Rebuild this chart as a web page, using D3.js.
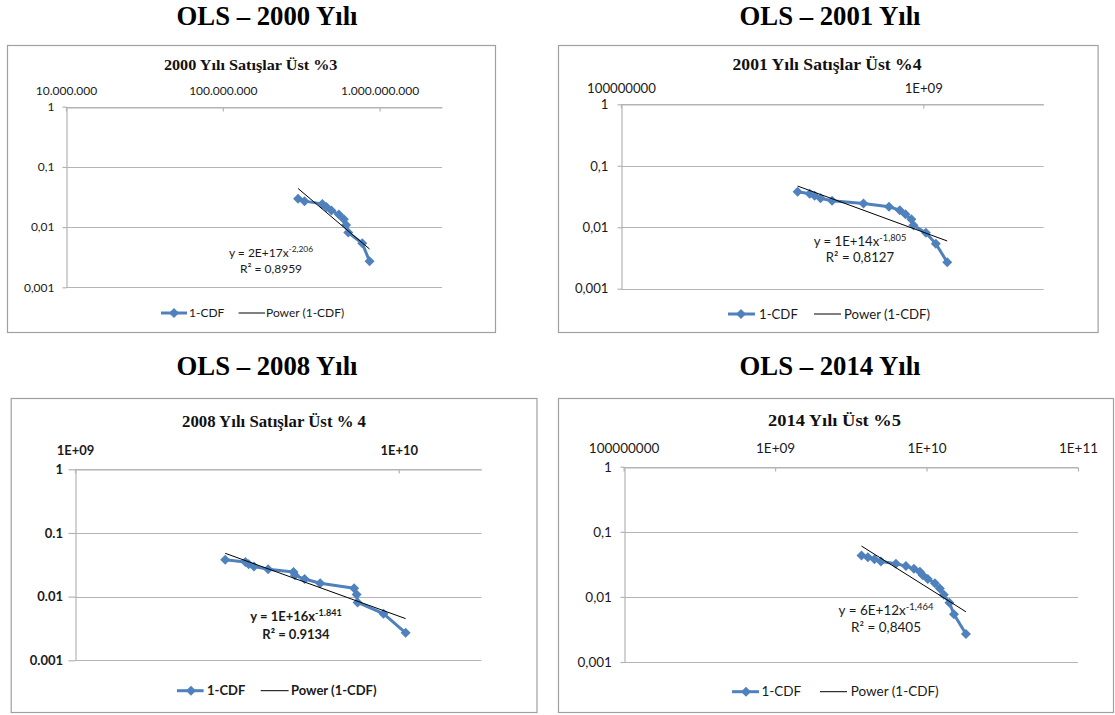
<!DOCTYPE html>
<html><head><meta charset="utf-8">
<script src="https://cdn.jsdelivr.net/npm/d3@7"></script>
<style>body{margin:0;background:#fff} svg{display:block}</style>
</head><body>
<svg id="c" width="1115" height="715"></svg>
<script>
// ---------- DATA ----------
const headerTitles = ["OLS – 2000 Yılı", "OLS – 2001 Yılı", "OLS – 2008 Yılı", "OLS – 2014 Yılı"];
const chartTitles = ["2000 Yılı  Satışlar  Üst %3", "2001 Yılı  Satışlar  Üst %4", "2008 Yılı Satışlar Üst % 4", "2014 Yılı  Üst %5"];

const sales2000 = [3.02e8, 3.32e8, 4.31e8, 4.58e8, 4.93e8, 5.50e8, 5.92e8, 6.11e8, 6.31e8, 7.75e8, 8.63e8];
const ccdf2000  = [0.0297, 0.0270, 0.0243, 0.0216, 0.0189, 0.0162, 0.0135, 0.0108, 0.0081, 0.0054, 0.0027];

const sales2001 = [3.84e8, 4.21e8, 4.37e8, 4.57e8, 4.99e8, 6.34e8, 7.70e8, 8.36e8, 8.73e8, 9.13e8, 9.27e8, 1.02e9, 1.10e9, 1.20e9];
const ccdf2001  = [0.0378, 0.0351, 0.0324, 0.0297, 0.0270, 0.0243, 0.0216, 0.0189, 0.0162, 0.0135, 0.0108, 0.0081, 0.0054, 0.0027];

const sales2008 = [2.91e9, 3.36e9, 3.44e9, 3.57e9, 3.95e9, 4.73e9, 4.78e9, 5.12e9, 5.72e9, 7.28e9, 7.41e9, 7.46e9, 8.97e9, 1.05e10];
const ccdf2008  = [0.0378, 0.0351, 0.0324, 0.0297, 0.0270, 0.0243, 0.0216, 0.0189, 0.0162, 0.0135, 0.0108, 0.0081, 0.0054, 0.0027];

const sales2014 = [3.72e9, 4.10e9, 4.53e9, 5.00e9, 6.28e9, 7.31e9, 8.26e9, 9.04e9, 9.44e9, 1.02e10, 1.135e10, 1.225e10, 1.30e10, 1.416e10, 1.517e10, 1.82e10];
const ccdf2014  = [0.0432, 0.0405, 0.0378, 0.0351, 0.0324, 0.0297, 0.0270, 0.0243, 0.0216, 0.0189, 0.0162, 0.0135, 0.0108, 0.0081, 0.0054, 0.0027];

const xTickValues2000 = [1e7, 1e8, 1e9];
const xTickLabels2000 = ["10.000.000", "100.000.000", "1.000.000.000"];
const xTickValues2001 = [1e8, 1e9];
const xTickLabels2001 = ["100000000", "1E+09"];
const xTickValues2008 = [1e9, 1e10];
const xTickLabels2008 = ["1E+09", "1E+10"];
const xTickValues2014 = [1e8, 1e9, 1e10, 1e11];
const xTickLabels2014 = ["100000000", "1E+09", "1E+10", "1E+11"];

const yTickValues = [1, 0.1, 0.01, 0.001];
const yTickLabelsComma = ["1", "0,1", "0,01", "0,001"];
const yTickLabelsDot = ["1", "0.1", "0.01", "0.001"];

// power trend lines  y = a * x^b
const trendA = [2.23e17, 1.46e14, 1.27e16, 6.2e12];
const trendB = [-2.206, -1.805, -1.841, -1.464];
const eqCoefLabels = ["2E+17", "1E+14", "1E+16", "6E+12"];
const eqExpLabels = ["-2,206", "-1,805", "-1.841", "-1,464"];
const r2Labels = ["0,8959", "0,8127", "0.9134", "0,8405"];
const legendLabels = ["1-CDF", "Power (1-CDF)"];

// ---------- LAYOUT ----------
const BLUE = "#4F81BD";
const panels = [
  { i:0, xs:sales2000, ys:ccdf2000, xt:xTickValues2000, xl:xTickLabels2000, yl:yTickLabelsComma,
    dom:[1e7, 2.5e9], header:{x:267, y:25}, box:[7,45,496,333],
    plot:{l:66, r:442, t:106.7, b:287.3}, title:{x:250.7, y:65, w:173.5, fs:15.5},
    xLabY:90, yLabX:54, fs:12, font:"Lato", weight:"normal",
    legend:{y:313, l1:[161,187], m:174, t1:189, l2:[238.6,265], t2:266},
    eq:{x:271, y1:253, y2:269} },
  { i:1, xs:sales2001, ys:ccdf2001, xt:xTickValues2001, xl:xTickLabels2001, yl:yTickLabelsComma,
    dom:[1e8, 2.5e9], header:{x:830, y:25}, box:[558,45,1098.6,333],
    plot:{l:621, r:1043.6, t:104.3, b:288.7}, title:{x:827, y:64, w:189, fs:17},
    xLabY:88, yLabX:608, fs:13.2, font:"Lato", weight:"normal",
    legend:{y:314, l1:[728,755], m:741, t1:759, l2:[814,841], t2:844},
    eq:{x:860, y1:241.5, y2:257.5} },
  { i:2, xs:sales2008, ys:ccdf2008, xt:xTickValues2008, xl:xTickLabels2008, yl:yTickLabelsDot,
    dom:[1e9, 1.8e10], header:{x:267, y:375}, box:[10.7,398,537.5,713],
    plot:{l:75, r:481.4, t:469.3, b:660.3}, title:{x:274, y:421.7, w:184, fs:16},
    xLabY:450, yLabX:62.5, fs:13, font:"Lato", weight:"bold",
    legend:{y:690.7, l1:[177,203.6], m:191, t1:207, l2:[260.7,288.6], t2:291},
    eq:{x:296, y1:616.7, y2:634.5} },
  { i:3, xs:sales2014, ys:ccdf2014, xt:xTickValues2014, xl:xTickLabels2014, yl:yTickLabelsComma,
    dom:[1e8, 1e11], header:{x:830, y:375}, box:[558,398,1114,713],
    plot:{l:623.6, r:1078, t:466.7, b:662}, title:{x:834.5, y:420, w:133, fs:16},
    xLabY:447.7, yLabX:611, fs:13.5, font:"Lato", weight:"normal",
    legend:{y:691.7, l1:[732,759], m:746, t1:761.4, l2:[820,847], t2:850.7},
    eq:{x:886, y1:610.5, y2:627.5} }
];

const svg = d3.select("#c");
const TXT = "#1a1a1a";
const GRID = "#b4b4b4";

function diamond(sel, cx, cy) {
  sel.append("path")
    .attr("d", d3.symbol(d3.symbolSquare, 50)())
    .attr("transform", `translate(${cx},${cy}) rotate(45)`)
    .attr("fill", BLUE);
}

panels.forEach(p => {
  const g = svg.append("g");
  // header
  g.append("text").attr("x", p.header.x).attr("y", p.header.y)
    .attr("text-anchor", "middle").attr("font-family", "Liberation Serif, Times New Roman, serif")
    .attr("font-weight", "bold").attr("font-size", 27)
    .attr("textLength", 181).attr("lengthAdjust", "spacingAndGlyphs")
    .attr("fill", "#000").text(headerTitles[p.i]);
  // box
  const [bx0, by0, bx1, by1] = p.box;
  g.append("rect").attr("x", bx0 + 0.5).attr("y", by0 + 0.5)
    .attr("width", bx1 - bx0 - 1).attr("height", by1 - by0 - 1)
    .attr("fill", "#fff").attr("stroke", "#a0a0a0").attr("stroke-width", 1.2);
  // chart title
  g.append("text").attr("x", p.title.x).attr("y", p.title.y)
    .attr("dy", "0.35em").attr("text-anchor", "middle")
    .attr("font-family", "Liberation Serif, Times New Roman, serif").attr("font-weight", "bold")
    .attr("font-size", p.title.fs).attr("textLength", p.title.w).attr("lengthAdjust", "spacingAndGlyphs")
    .attr("fill", "#111").text(chartTitles[p.i]);

  const x = d3.scaleLog().domain(p.dom).range([p.plot.l, p.plot.r]);
  const y = d3.scaleLog().domain([0.001, 1]).range([p.plot.b, p.plot.t]);

  // horizontal gridlines
  g.append("g").selectAll("line").data(yTickValues).join("line")
    .attr("x1", p.plot.l).attr("x2", p.plot.r)
    .attr("y1", d => Math.round(y(d)) + 0.5).attr("y2", d => Math.round(y(d)) + 0.5)
    .attr("stroke", GRID).attr("stroke-width", 1.2);

  // left axis
  const tickLen = p.i === 2 ? 7 : 4;
  const yAxis = d3.axisLeft(y).tickValues(yTickValues)
    .tickFormat((d, k) => p.yl[k]).tickSizeInner(tickLen).tickSizeOuter(0)
    .tickPadding(p.plot.l - p.yLabX - tickLen);
  const ya = g.append("g").attr("transform", `translate(${Math.round(p.plot.l) + 0.5},0)`).call(yAxis);
  ya.select(".domain").attr("stroke", GRID).attr("stroke-width", 1.2);
  ya.selectAll(".tick line").attr("stroke", GRID).attr("stroke-width", 1.2);
  ya.selectAll(".tick text").attr("font-family", p.font).attr("font-weight", p.weight)
    .attr("font-size", p.fs).attr("fill", TXT);

  // top axis
  const baseOff = p.fs * 0.36;
  const xAxis = d3.axisTop(x).tickValues(p.xt)
    .tickFormat((d, k) => p.xl[k]).tickSizeInner(-4).tickSizeOuter(0)
    .tickPadding(p.plot.t - p.xLabY - baseOff);
  const xa = g.append("g").attr("transform", `translate(0,${Math.round(p.plot.t) + 0.5})`).call(xAxis);
  xa.select(".domain").attr("stroke", GRID).attr("stroke-width", 1.2);
  xa.selectAll(".tick line").attr("stroke", GRID).attr("stroke-width", 1.2);
  xa.selectAll(".tick text").attr("font-family", p.font).attr("font-weight", p.weight)
    .attr("font-size", p.fs).attr("fill", TXT);

  // series
  const pts = p.xs.map((v, k) => [v, p.ys[k]]);
  g.append("path").datum(pts)
    .attr("d", d3.line().x(d => x(d[0])).y(d => y(d[1])))
    .attr("fill", "none").attr("stroke", BLUE).attr("stroke-width", 3)
    .attr("stroke-linejoin", "round");
  const mg = g.append("g");
  pts.forEach(d => diamond(mg, x(d[0]), y(d[1])));

  // trend line
  const xmin = d3.min(p.xs), xmax = d3.max(p.xs);
  const a = trendA[p.i], b = trendB[p.i];
  const tr = [xmin, xmax].map(v => [v, a * Math.pow(v, b)]);
  g.append("path").datum(tr)
    .attr("d", d3.line().x(d => x(d[0])).y(d => y(d[1])))
    .attr("fill", "none").attr("stroke", "#000").attr("stroke-width", 1);

  // equation
  const eq = g.append("text").attr("x", p.eq.x).attr("y", p.eq.y1).attr("dy", "0.35em")
    .attr("text-anchor", "middle").attr("font-family", p.font).attr("font-weight", p.weight)
    .attr("font-size", p.fs).attr("fill", TXT);
  eq.append("tspan").text(`y = ${eqCoefLabels[p.i]}x`);
  eq.append("tspan").attr("dy", -p.fs * 0.4).attr("font-size", p.fs * 0.7).text(eqExpLabels[p.i]);
  g.append("text").attr("x", p.eq.x).attr("y", p.eq.y2).attr("dy", "0.35em")
    .attr("text-anchor", "middle").attr("font-family", p.font).attr("font-weight", p.weight)
    .attr("font-size", p.fs).attr("fill", TXT).text(`R² = ${r2Labels[p.i]}`);

  // legend
  const L = p.legend;
  g.append("line").attr("x1", L.l1[0]).attr("x2", L.l1[1]).attr("y1", L.y).attr("y2", L.y)
    .attr("stroke", BLUE).attr("stroke-width", 3);
  diamond(g, L.m, L.y);
  g.append("text").attr("x", L.t1).attr("y", L.y).attr("dy", "0.35em")
    .attr("font-family", p.font).attr("font-weight", p.weight).attr("font-size", p.fs)
    .attr("fill", TXT).text(legendLabels[0]);
  g.append("line").attr("x1", L.l2[0]).attr("x2", L.l2[1]).attr("y1", L.y).attr("y2", L.y)
    .attr("stroke", "#000").attr("stroke-width", 1);
  g.append("text").attr("x", L.t2).attr("y", L.y).attr("dy", "0.35em")
    .attr("font-family", p.font).attr("font-weight", p.weight).attr("font-size", p.fs)
    .attr("fill", TXT).text(legendLabels[1]);
});
</script>
</body></html>
